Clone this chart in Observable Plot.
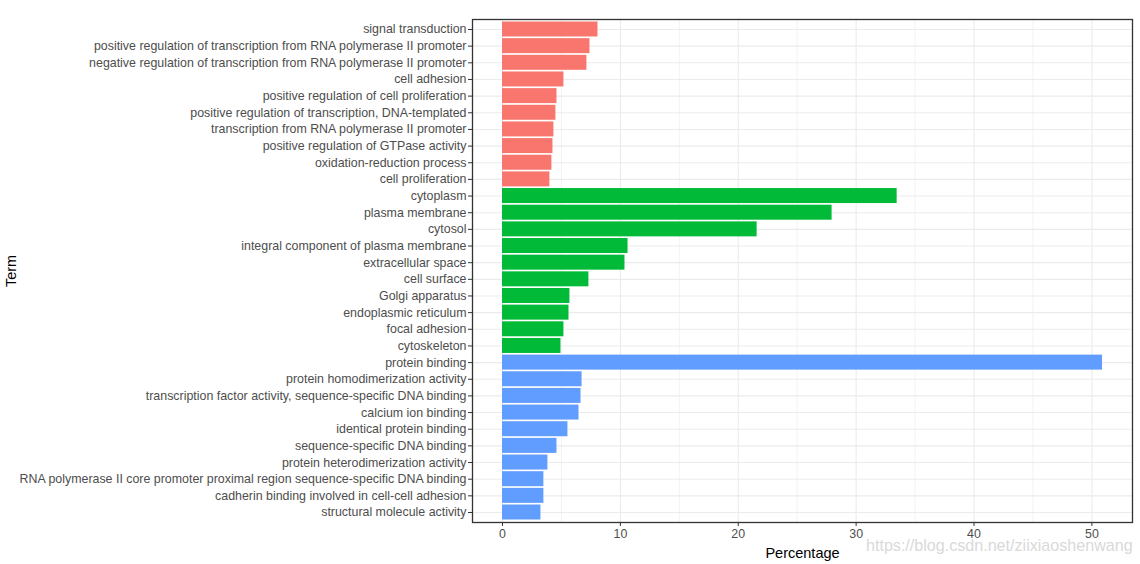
<!DOCTYPE html>
<html>
<head>
<meta charset="utf-8">
<script src="https://cdn.jsdelivr.net/npm/d3@7"></script>
<script src="https://cdn.jsdelivr.net/npm/@observablehq/plot@0.6"></script>
<style>
  html, body { margin: 0; padding: 0; background: #fff; }
  body { width: 1140px; height: 564px; position: relative; overflow: hidden; font-family: "Liberation Sans", Arial, sans-serif; }
  #watermark { position: absolute; left: 866px; top: 536px; font-size: 16.1px; color: #d9d9d9; font-family: "Liberation Sans", Arial, sans-serif; }
</style>
</head>
<body>
<div id="chart"></div>
<div id="watermark">https://blog.csdn.net/ziixiaoshenwang</div>
<script>
const terms = [
  "signal transduction",
  "positive regulation of transcription from RNA polymerase II promoter",
  "negative regulation of transcription from RNA polymerase II promoter",
  "cell adhesion",
  "positive regulation of cell proliferation",
  "positive regulation of transcription, DNA-templated",
  "transcription from RNA polymerase II promoter",
  "positive regulation of GTPase activity",
  "oxidation-reduction process",
  "cell proliferation",
  "cytoplasm",
  "plasma membrane",
  "cytosol",
  "integral component of plasma membrane",
  "extracellular space",
  "cell surface",
  "Golgi apparatus",
  "endoplasmic reticulum",
  "focal adhesion",
  "cytoskeleton",
  "protein binding",
  "protein homodimerization activity",
  "transcription factor activity, sequence-specific DNA binding",
  "calcium ion binding",
  "identical protein binding",
  "sequence-specific DNA binding",
  "protein heterodimerization activity",
  "RNA polymerase II core promoter proximal region sequence-specific DNA binding",
  "cadherin binding involved in cell-cell adhesion",
  "structural molecule activity"
];
const percentages = [
  8.10, 7.42, 7.16, 5.21, 4.62, 4.53, 4.36, 4.28, 4.19, 4.02,
  33.48, 27.96, 21.60, 10.65, 10.39, 7.33, 5.72, 5.64, 5.21, 4.96,
  50.90, 6.75, 6.66, 6.49, 5.55, 4.62, 3.85, 3.51, 3.51, 3.26
];
const categories = [
  "BP","BP","BP","BP","BP","BP","BP","BP","BP","BP",
  "CC","CC","CC","CC","CC","CC","CC","CC","CC","CC",
  "MF","MF","MF","MF","MF","MF","MF","MF","MF","MF"
];
const categoryNames = ["BP", "CC", "MF"];
const categoryColors = ["#F8766D", "#00BA38", "#619CFF"];
const xTicks = [0, 10, 20, 30, 40, 50];
const xMinor = [5, 15, 25, 35, 45];

const data = terms.map((t, i) => ({term: t, pct: percentages[i], cat: categories[i]}));
const xmax = d3.max(percentages);
const pad = 0.05 * xmax;

const chart = Plot.plot({
  width: 1140,
  height: 564,
  marginLeft: 472,
  marginRight: 8,
  marginTop: 19,
  marginBottom: 42,
  style: {fontFamily: "'Liberation Sans', Arial, sans-serif", fontSize: "12.4px", background: "#fff"},
  x: {domain: [-pad, xmax + pad], ticks: xTicks},
  y: {domain: terms, paddingInner: 0.1, paddingOuter: 0.15, align: 0.5, round: false},
  color: {domain: categoryNames, range: categoryColors},
  marks: [
    Plot.ruleX(xMinor, {stroke: "#EBEBEB", strokeWidth: 0.6}),
    Plot.gridX({ticks: xTicks, stroke: "#EBEBEB", strokeOpacity: 1, strokeWidth: 1.1}),
    Plot.gridY({stroke: "#EBEBEB", strokeOpacity: 1, strokeWidth: 1.1}),
    Plot.barX(data, {y: "term", x1: 0, x2: "pct", fill: "cat"}),
    Plot.frame({stroke: "#333333", strokeWidth: 1.3}),
    Plot.axisY({tickSize: 4, tickPadding: 2, stroke: "#333333", fill: "#4D4D4D", fontSize: 12.4,
      label: "Term", labelAnchor: "center", labelOffset: 467}),
    Plot.axisX({ticks: xTicks, tickSize: 4, tickPadding: 3, stroke: "#333333", fill: "#4D4D4D", fontSize: 12.4,
      label: "Percentage", labelAnchor: "center", labelOffset: 35, labelArrow: "none"})
  ]
});
document.getElementById("chart").appendChild(chart);

// style axis titles like ggplot (black, larger)
chart.querySelectorAll("g[aria-label='y-axis label'] text, g[aria-label='x-axis label'] text").forEach(t => {
  t.setAttribute("fill", "#000");
  t.style.fontSize = "14.5px";
});
</script>
</body>
</html>
